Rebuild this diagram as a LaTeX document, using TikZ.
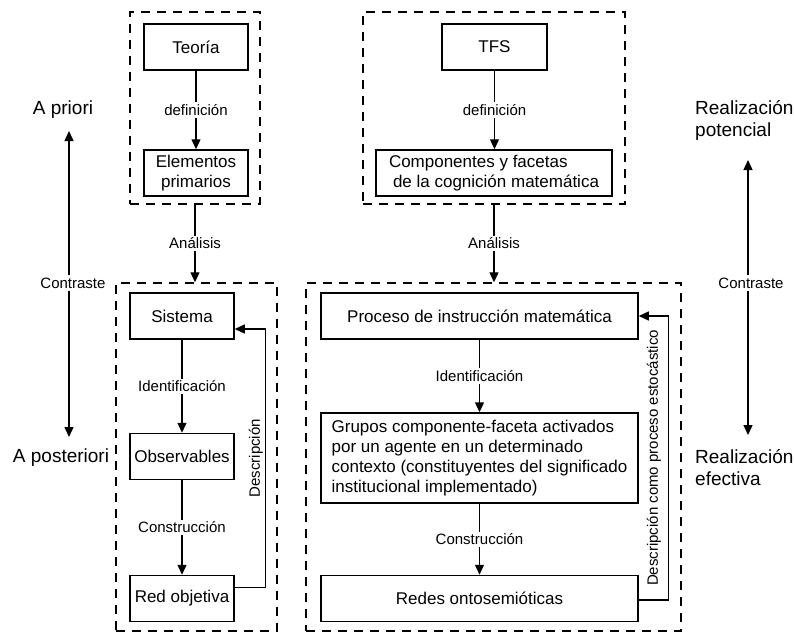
\documentclass[tikz,border=0pt]{standalone}
\usepackage{fontspec}
\setmainfont{Liberation Sans}
\usetikzlibrary{calc}
\usetikzlibrary{arrows.meta}
\tikzset{%
  myedge/.style={->, line width=1.3pt, >={Triangle[length=10pt,width=9pt]}},
  mybox/.style={rectangle, draw=black, line width=1.5pt, inner sep=3pt, minimum height=46pt, align=center, font=\fontsize{17}{20}\selectfont},
  mygroup/.style={rectangle, draw=black, line width=1.5pt, dash pattern=on 9pt off 7pt},
  mylabel/.style={fill=white, inner sep=2pt, font=\fontsize{15}{17}\selectfont},
  myside/.style={inner sep=0pt, align=left, font=\fontsize{19}{22}\selectfont}
}

\begin{document}
\begin{tikzpicture}[x=1pt, y=-1pt]
  \useasboundingbox (0,0) rectangle (794,632);
  % dashed groups
  \node[mygroup, minimum width=130pt, minimum height=192pt] (g1) at (195,108) {};
  \node[mygroup, minimum width=262pt, minimum height=192pt] (g2) at (494,108) {};
  \node[mygroup, minimum width=161pt, minimum height=348pt] (g3) at (196.5,457) {};
  \node[mygroup, minimum width=375pt, minimum height=348pt] (g4) at (493.5,457) {};
  % boxes
  \node[mybox, minimum width=104pt] (teoria) at (196,47) {Teoría};
  \node[mybox, minimum width=104pt] (elem) at (196,173) {Elementos\\primarios};
  \node[mybox, minimum width=105pt] (tfs) at (494.5,47) {TFS};
  \node[mybox, minimum width=236pt, align=left] (comp) at (494,173) {Componentes y facetas\\\hspace*{4pt}de la cognición matemática};
  \node[mybox, minimum width=104pt] (sistema) at (182,316) {Sistema};
  \node[mybox, minimum width=104pt] (observ) at (182,456.5) {Observables};
  \node[mybox, minimum width=104pt] (red) at (182,598.5) {Red objetiva};
  \node[mybox, minimum width=317pt] (proceso) at (479.5,316) {Proceso de instrucción matemática};
  \node[mybox, minimum width=317pt, minimum height=90pt, align=left] (grupos) at (479.5,458) {Grupos componente-faceta activados\\por un agente en un determinado\\contexto (constituyentes del significado\\institucional implementado)};
  \node[mybox, minimum width=317pt] (redes) at (479.5,598.5) {Redes ontosemióticas};
  % edges
  \draw[myedge] (teoria) -- (elem) node[mylabel, midway] {definición};
  \draw[myedge] (tfs) -- (tfs |- comp.north) node[mylabel, midway] {definición};
  \draw[myedge] (g1.south) -- (g1.south |- g3.north) node[mylabel, midway] {Análisis};
  \draw[myedge] (g2.south) -- (g2.south |- g4.north) node[mylabel, midway] {Análisis};
  \draw[myedge] (sistema) -- (observ) node[mylabel, midway] {Identificación};
  \draw[myedge] (observ) -- (red) node[mylabel, midway] {Construcción};
  \draw[myedge] (proceso) -- (grupos) node[mylabel, midway] {Identificación};
  \draw[myedge] (grupos) -- (redes) node[mylabel, midway] {Construcción};
  % feedback
  \draw[myedge] ($(red.east)+(0,-11)$) -- ++(31,0) |- ($(sistema.east)+(0,13)$)
    node[pos=0.25, rotate=90, anchor=south, inner sep=2pt, font=\fontsize{15}{17}\selectfont] {Descripción};
  \draw[myedge] ($(redes.east)+(0,1.5)$) -- ++(30,0) |- (proceso.east)
    node[pos=0.25, rotate=90, anchor=south, inner sep=7pt, font=\fontsize{15}{17}\selectfont] {Descripción como proceso estocástico};
  % sides
  \node[myside] (apriori) at (63,110) {A priori};
  \node[myside] (aposteriori) at (61,458) {A posteriori};
  \node[myside, anchor=west] (potencial) at (695,120) {Realización\\potencial};
  \node[myside, anchor=west] (efectiva) at (695,468) {Realización\\efectiva};
  \node[mylabel] (contl) at (73,283) {Contraste};
  \node[mylabel] (contr) at (751,283) {Contraste};
  \coordinate (tl) at (69,131);
  \coordinate (bl) at (69,437);
  \coordinate (tr) at (748,160);
  \coordinate (br) at (748,435);
  \draw[myedge] (contl.north -| tl) -- (tl);
  \draw[myedge] (contl.south -| bl) -- (bl);
  \draw[myedge] (contr.north -| tr) -- (tr);
  \draw[myedge] (contr.south -| br) -- (br);
\end{tikzpicture}
\end{document}
